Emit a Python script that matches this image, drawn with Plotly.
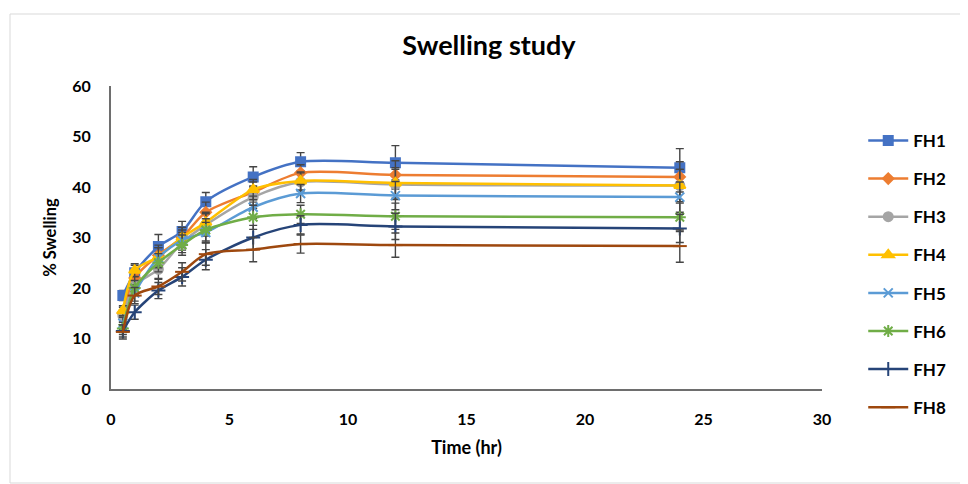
import plotly.graph_objects as go

time_hr = [0.5, 1, 2, 3, 4, 6, 8, 12, 24]
series_names = ["FH1", "FH2", "FH3", "FH4", "FH5", "FH6", "FH7", "FH8"]

fh1 = [18.5, 23.0, 28.2, 31.2, 37.1, 42.0, 45.0, 44.8, 43.8]
fh2 = [15.0, 22.0, 26.5, 30.0, 35.0, 39.0, 42.8, 42.4, 42.0]
fh3 = [14.5, 20.5, 23.7, 29.0, 32.5, 38.0, 41.0, 40.5, 40.3]
fh4 = [15.5, 23.5, 26.2, 30.0, 33.0, 39.5, 41.2, 40.8, 40.3]
fh5 = [13.0, 19.0, 26.0, 29.5, 31.0, 36.0, 38.7, 38.3, 38.0]
fh6 = [12.0, 20.0, 25.0, 28.5, 31.5, 34.0, 34.6, 34.2, 34.0]
fh7 = [11.5, 15.2, 19.5, 22.2, 25.6, 30.0, 32.5, 32.2, 31.8]
fh8 = [11.3, 18.5, 20.3, 23.2, 26.7, 27.6, 28.7, 28.5, 28.3]

err1 = [1.0, 1.5, 2.4, 2.0, 1.8, 2.0, 1.8, 3.4, 3.8]
err2 = [1.2, 1.5, 2.0, 2.0, 2.0, 2.0, 1.6, 2.8, 3.0]
err3 = [1.2, 1.8, 2.0, 2.0, 2.2, 2.2, 1.8, 3.0, 3.2]
err4 = [1.0, 1.3, 1.8, 2.0, 2.0, 2.0, 1.8, 3.0, 3.2]
err5 = [1.2, 1.6, 2.0, 2.0, 2.0, 2.2, 1.8, 2.8, 3.0]
err6 = [1.2, 1.5, 1.8, 2.0, 2.2, 2.4, 1.8, 2.6, 2.8]
err7 = [1.2, 1.4, 1.6, 1.8, 2.0, 2.4, 1.8, 2.6, 2.8]
err8 = [1.4, 1.6, 1.6, 1.8, 2.2, 2.4, 1.8, 2.4, 3.2]

values = [fh1, fh2, fh3, fh4, fh5, fh6, fh7, fh8]
errors = [err1, err2, err3, err4, err5, err6, err7, err8]
colors = ["#4472C4", "#ED7D31", "#A5A5A5", "#FFC000", "#5B9BD5", "#70AD47", "#264478", "#9E480E"]
symbols = ["square", "diamond", "circle", "triangle-up", "x-thin", "asterisk", "cross-thin", "line-ew"]
sizes = [9, 8, 9, 10, 9, 10, 10, 10]

FONT = "Lato, Open Sans, sans-serif"

fig = go.Figure()
for name, y, e, c, s, sz in zip(series_names, values, errors, colors, symbols, sizes):
    fig.add_trace(go.Scatter(
        x=time_hr, y=y, name=name, mode="lines+markers",
        legendgroup=name,
        line=dict(color=c, width=2.5, shape="spline", smoothing=0.8),
        marker=dict(symbol=s, size=sz, color=c, line=dict(color=c, width=2)),
        error_y=dict(type="data", array=e, visible=True, color="#454545", thickness=1.4, width=4),
    ))

# page body has an 8px margin, so the figure is 960x476 and placed at (8,8)
fig.update_layout(
    width=960, height=476,
    paper_bgcolor="white", plot_bgcolor="white",
    margin=dict(l=103, r=146, t=78, b=95),
    title=dict(text="Swelling study", x=0.501, xanchor="center", y=0.922, yanchor="middle",
               font=dict(family=FONT, size=27, color="#000000", weight="bold")),
    font=dict(family=FONT, size=16, color="#000000"),
    xaxis=dict(range=[0, 30], tickvals=[0, 5, 10, 15, 20, 25, 30], showgrid=False, zeroline=False,
               showline=True, linecolor="#6e6e6e", linewidth=2, ticks="", ticklabelstandoff=15,
               tickfont=dict(size=16, weight="bold"),
               title=dict(text="Time (hr)", font=dict(size=18, weight="bold"), standoff=14)),
    yaxis=dict(range=[0, 60], tickvals=[0, 10, 20, 30, 40, 50, 60], showgrid=False, zeroline=False,
               showline=True, linecolor="#6e6e6e", linewidth=2, ticks="", ticklabelstandoff=15,
               tickfont=dict(size=16, weight="bold"),
               title=dict(text="% Swelling", font=dict(size=16.5, weight="bold"), standoff=11)),
    legend=dict(x=1.058, xanchor="left", y=0.878, yanchor="top", tracegroupgap=13,
                font=dict(size=17, weight="bold"), bgcolor="rgba(0,0,0,0)", itemwidth=40),
    showlegend=True,
)

# Outer chart border
fig.add_shape(type="rect", xref="paper", yref="paper",
              x0=(2 - 103) / 711, x1=(955 - 103) / 711,
              y0=(381 - 475) / 303, y1=(381 - 6) / 303,
              line=dict(color="#d9d9d9", width=1), layer="below")

fig.write_html("out.html")
